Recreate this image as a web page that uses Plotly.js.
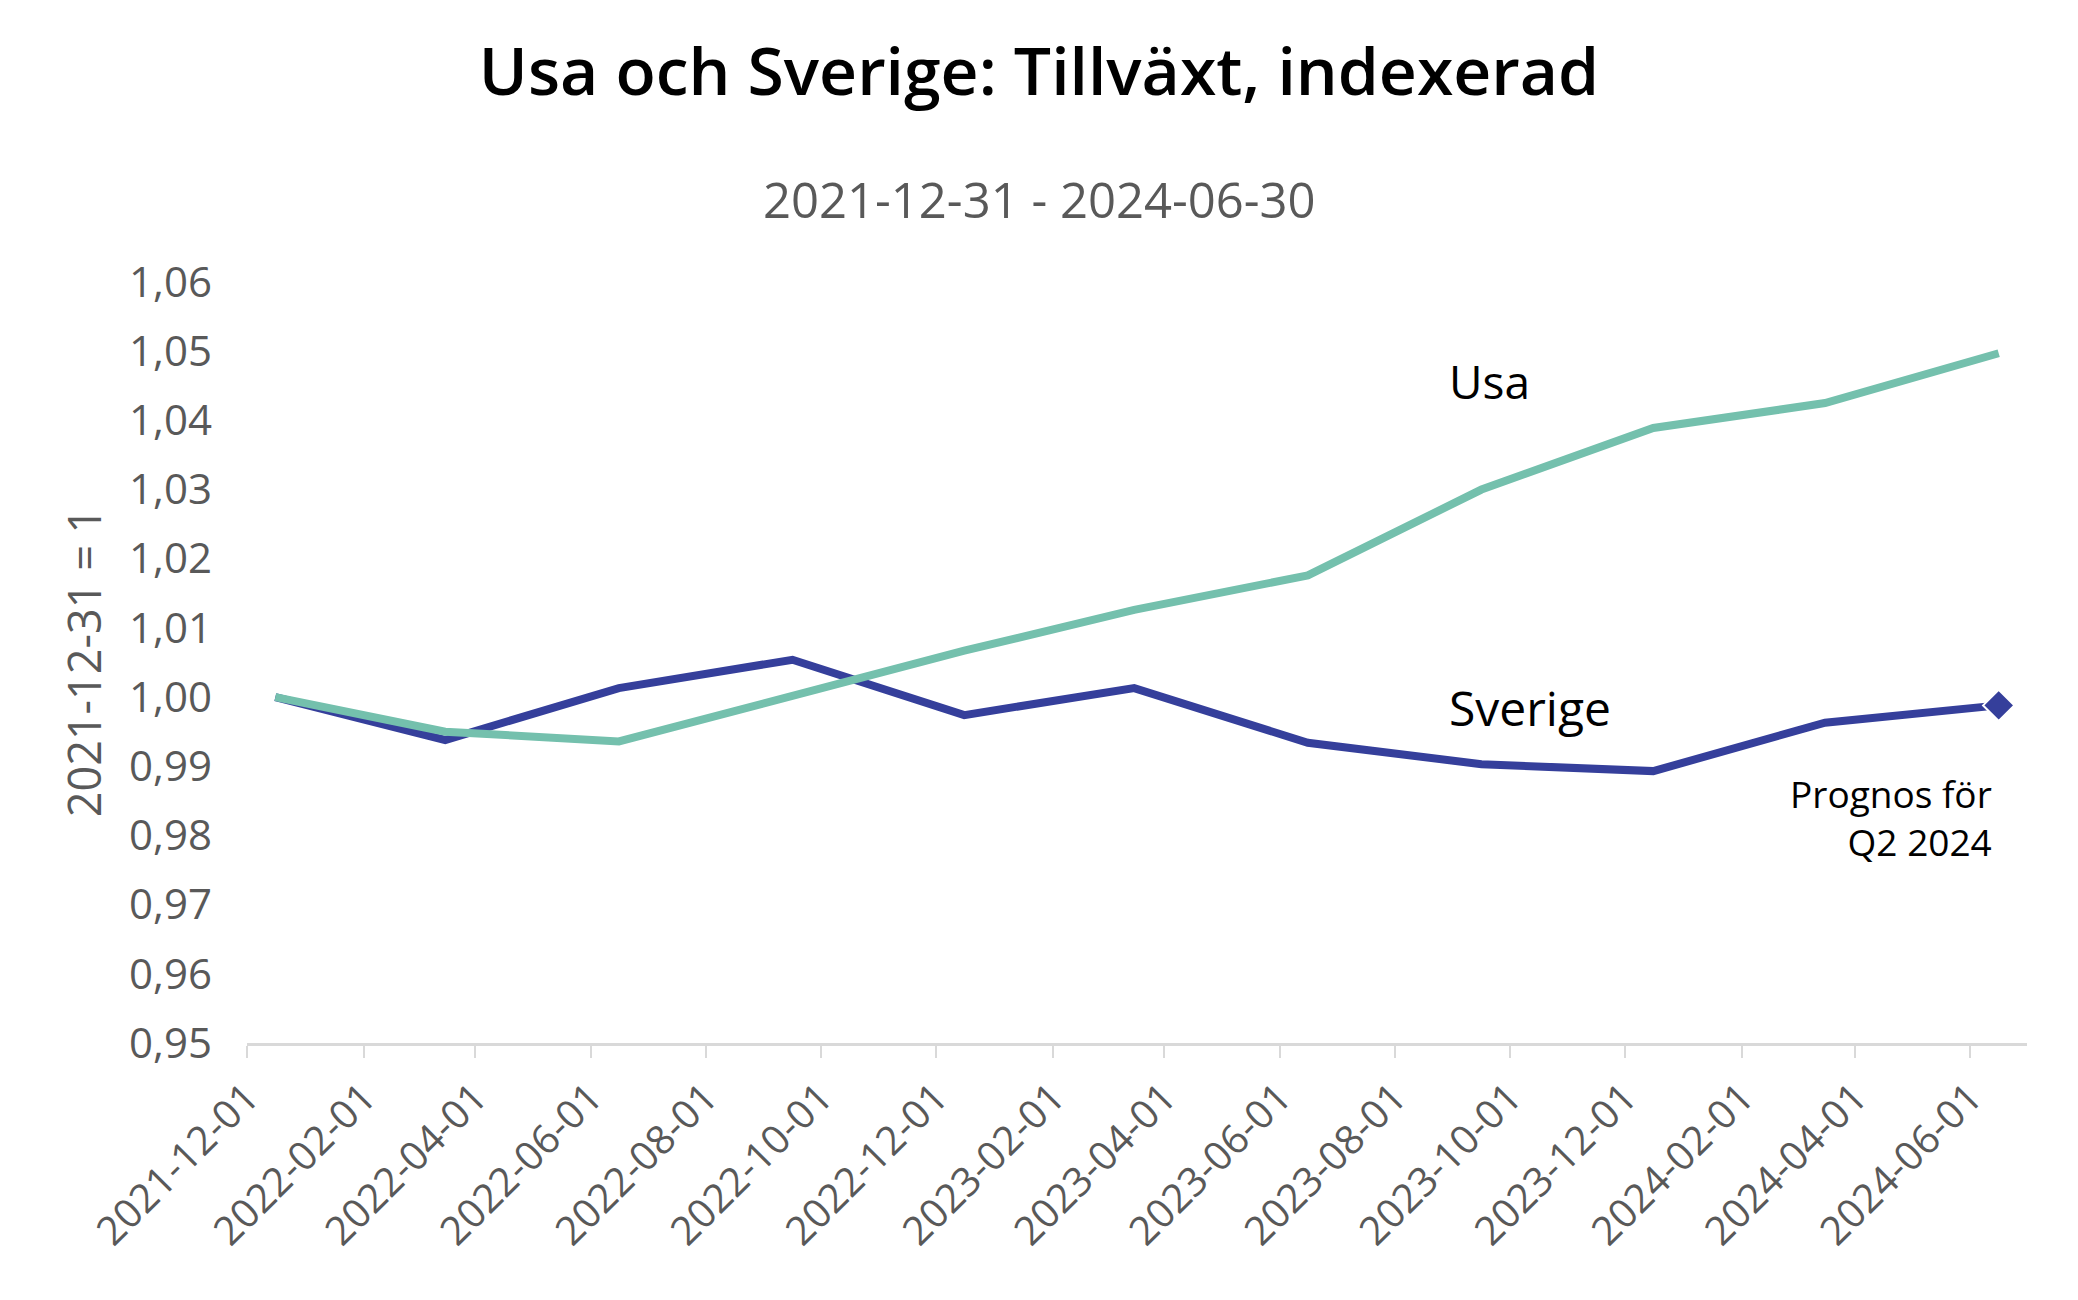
<!DOCTYPE html>
<html>
<head>
<meta charset="utf-8">
<script src="https://cdn.plot.ly/plotly-3.0.1.min.js"></script>
<style>html,body{margin:0;padding:0;background:#fff;}#chart{width:2078px;height:1300px;}</style>
</head>
<body>
<div id="chart"></div>
<script>
// Quarter observations (plotted mid-month, as in the original date axis)
const quarters = ["2021-12-16","2022-03-16","2022-06-16","2022-09-16","2022-12-16","2023-03-16","2023-06-16","2023-09-16","2023-12-16","2024-03-16","2024-06-16"];
const sverige = [1.000, 0.9938, 1.0013, 1.0054, 0.9974, 1.0013, 0.9934, 0.9903, 0.9893, 0.9963, 0.9988];
const usa     = [1.000, 0.9950, 0.9936, 1.0003, 1.0067, 1.0126, 1.0176, 1.0300, 1.0389, 1.0425, 1.0497];
const titleText = "Usa och Sverige: Tillväxt, indexerad";
const subtitleText = "2021-12-31 - 2024-06-30";
const yTitle = "2021-12-31 = 1";
const prognosText = "Prognos för<br>Q2 2024";

const FONT = "Open Sans, Noto Sans, sans-serif";
const GREY = "#595959";
const last = quarters.length - 1;

const traces = [
  {x: quarters, y: sverige, type: "scatter", mode: "lines", name: "Sverige",
   line: {color: "#353f9b", width: 8}, hoverinfo: "skip"},
  {x: quarters, y: usa, type: "scatter", mode: "lines", name: "Usa",
   line: {color: "#74c0ad", width: 8}, hoverinfo: "skip"},
  {x: [quarters[last]], y: [sverige[last]], type: "scatter", mode: "markers", name: "Prognos",
   marker: {symbol: "diamond", size: 24, color: "#353f9b", line: {color: "#ffffff", width: 2}}, hoverinfo: "skip"}
];

const layout = {
  width: 2078, height: 1300,
  paper_bgcolor: "#ffffff", plot_bgcolor: "#ffffff",
  showlegend: false,
  separators: ", ",
  margin: {l: 247, r: 51, t: 282, b: 257, autoexpand: false},
  font: {family: FONT, color: GREY},
  title: {text: titleText, x: 0.5, xanchor: "center", y: 1 - 72/1300, yanchor: "middle",
          font: {family: FONT, size: 66, color: "#000000", weight: 600}},
  xaxis: {
    type: "date",
    range: ["2021-12-01", "2024-07-01"],
    tick0: "2021-12-01", dtick: "M2",
    tickformat: "%Y-%m-%d",
    tickangle: -45,
    ticks: "outside", ticklen: 12, tickwidth: 2, tickcolor: "#d9d9d9",
    showline: true, linecolor: "#d9d9d9", linewidth: 3,
    showgrid: false, zeroline: false,
    tickfont: {family: FONT, size: 40, color: GREY},
    automargin: false, fixedrange: true
  },
  yaxis: {
    range: [0.95, 1.06],
    tick0: 0.95, dtick: 0.01,
    tickformat: ".2f",
    ticks: "", showline: false, showgrid: false, zeroline: false,
    ticklabelstandoff: 34,
    tickfont: {family: FONT, size: 42, color: GREY},
    title: {text: yTitle, standoff: 13, font: {family: FONT, size: 45, color: GREY}},
    automargin: false, fixedrange: true
  },
  annotations: [
    {text: subtitleText, xref: "paper", yref: "paper", x: (1039 - 247) / 1780, y: 1.109, xanchor: "center", yanchor: "middle",
     showarrow: false, font: {family: FONT, size: 49, color: GREY}},
    {text: "Usa", xref: "paper", yref: "paper", x: 0.674, y: 0.870, xanchor: "left", yanchor: "middle",
     showarrow: false, font: {family: FONT, size: 46, color: "#000000"}},
    {text: "Sverige", xref: "paper", yref: "paper", x: 0.674, y: 0.4415, xanchor: "left", yanchor: "middle",
     showarrow: false, font: {family: FONT, size: 48, color: "#000000"}},
    {text: prognosText, xref: "paper", yref: "paper", x: 0.9815, y: 0.2957, xanchor: "right", yanchor: "middle",
     align: "right", showarrow: false, font: {family: FONT, size: 37, color: "#000000"}}
  ]
};

Plotly.newPlot("chart", traces, layout, {staticPlot: true, displayModeBar: false});
</script>
</body>
</html>
